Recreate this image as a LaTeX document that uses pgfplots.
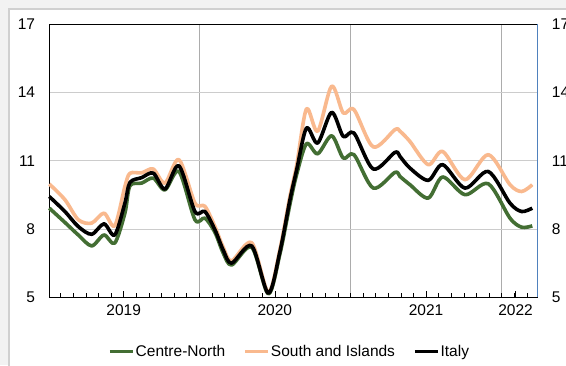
\documentclass[border=0pt]{standalone}
\usepackage{fontspec}
\setmainfont{Liberation Sans}
\usepackage{pgfplots}
\pgfplotsset{compat=1.18}
\definecolor{cn}{HTML}{436E33}
\definecolor{si}{HTML}{F9B98E}
\definecolor{bgc}{HTML}{F2F2F2}
\definecolor{brd}{HTML}{D0D0D0}
\definecolor{rax}{HTML}{4F81BD}
\pgfdeclarelayer{background}
\pgfsetlayers{background,main}

\pgfplotstableread{
x s i c
0.1 9.98 9.43 8.92
1.34 9.29 8.77 8.29
2.40 8.41 8.11 7.74
3.46 8.26 7.77 7.26
4.44 8.70 8.23 7.74
5.29 8.14 7.74 7.38
6.10 9.87 9.14 8.70
6.50 10.45 10.05 9.90
7.43 10.47 10.26 10.02
8.35 10.64 10.46 10.24
9.28 10.02 9.76 9.72
10.39 11.05 10.78 10.53
11.66 9.14 8.77 8.41
12.45 9.00 8.77 8.48
13.25 8.10 7.96 7.85
13.90 7.20 7.08 6.95
14.57 6.60 6.50 6.42
16.16 7.40 7.26 7.20
17.48 5.22 5.18 5.15
18.40 7.10 7.00 6.90
19.20 9.45 9.29 9.10
19.73 10.80 10.60 10.40
20.51 13.28 12.44 11.75
21.40 12.30 11.78 11.31
22.51 14.28 13.13 12.10
23.43 13.10 12.07 11.12
24.28 13.25 12.22 11.27
25.81 11.61 10.64 9.80
27.53 12.37 11.37 10.49
27.93 12.30 11.19 10.31
28.72 11.85 10.68 9.95
30.17 10.83 10.14 9.36
31.32 11.41 10.83 10.29
33.09 10.17 9.80 9.51
34.94 11.27 10.53 9.99
36.66 9.95 9.14 8.48
37.59 9.65 8.77 8.08
38.43 9.95 8.92 8.14
}\datatable

\begin{document}
\begin{tikzpicture}
\begin{axis}[
  name=main,
  scale only axis, width=488.4pt, height=273pt,
  xmin=0.1, xmax=38.86, ymin=5, ymax=17,
  axis x line*=bottom, axis y line*=left,
  x axis line style={black, line width=1.3pt},
  y axis line style={black, line width=0.9pt},
  ytick={5,8,11,14,17},
  ymajorgrids,
  y grid style={gray!40, line width=0.9pt},
  ytick style={draw=none},
  yticklabel style={inner sep=0pt},
  yticklabel shift=14pt,
  /pgf/number format/assume math mode=true,
  xtick={12,24,36}, xticklabels={},
  xmajorgrids,
  x grid style={gray!65, line width=0.6pt},
  major tick length=0pt,
  minor xtick={1,...,38},
  minor tick length=4pt,
  tick align=inside,
  xtick pos=bottom,
  minor tick style={black, line width=0.5pt},
  extra x ticks={6,18,30,37.1},
  extra x tick labels={2019,2020,2021,2022},
  extra x tick style={grid=none, major tick length=6pt, tick style={black, line width=0.6pt}},
  xticklabel style={inner sep=0pt, yshift=-7pt},
  tick label style={font=\fontsize{15.5}{16}\selectfont},
  legend style={at={(0.491,-0.199)}, anchor=center, draw=none, fill=none,
    font=\fontsize{15.5}{16}\selectfont,
    /tikz/every even column/.append style={column sep=17pt},
    nodes={inner sep=1pt}},
  legend columns=3,
  legend image code/.code={\draw[#1] (0pt,0pt) -- (23pt,0pt);},
  clip=false,
]
\addplot[cn, line width=3.6pt, smooth, line join=round] table[x=x, y=c] {\datatable};
\addlegendentry{Centre-North}
\addplot[si, line width=3.6pt, smooth, line join=round] table[x=x, y=s] {\datatable};
\addlegendentry{South and Islands}
\addplot[black, line width=3.6pt, smooth, line join=round] table[x=x, y=i] {\datatable};
\addlegendentry{Italy}
\coordinate (sw) at (rel axis cs:0,0);
\end{axis}

\begin{axis}[
  scale only axis, width=488.4pt, height=273pt,
  xmin=0.1, xmax=38.86, ymin=5, ymax=17,
  axis x line*=top, axis y line*=right,
  x axis line style={black, line width=0.8pt},
  y axis line style={rax, line width=0.9pt},
  xtick=\empty,
  ytick={5,8,11,14,17},
  ytick style={draw=none},
  yticklabel style={inner sep=0pt},
  yticklabel shift=14pt,
  /pgf/number format/assume math mode=true,
  tick label style={font=\fontsize{15.5}{16}\selectfont},
]
\end{axis}

\begin{pgfonlayer}{background}
\fill[bgc] ([shift={(-49.3pt,-67.7pt)}]sw) rectangle ++(566pt,365pt);
\filldraw[fill=white, draw=brd, line width=2pt] ([shift={(-40.3pt,-87.7pt)}]sw) rectangle ++(600pt,376pt);
\end{pgfonlayer}
\pgfresetboundingbox
\useasboundingbox ([shift={(-49.3pt,-67.7pt)}]sw) rectangle ++(566pt,365pt);
\end{tikzpicture}
\end{document}
